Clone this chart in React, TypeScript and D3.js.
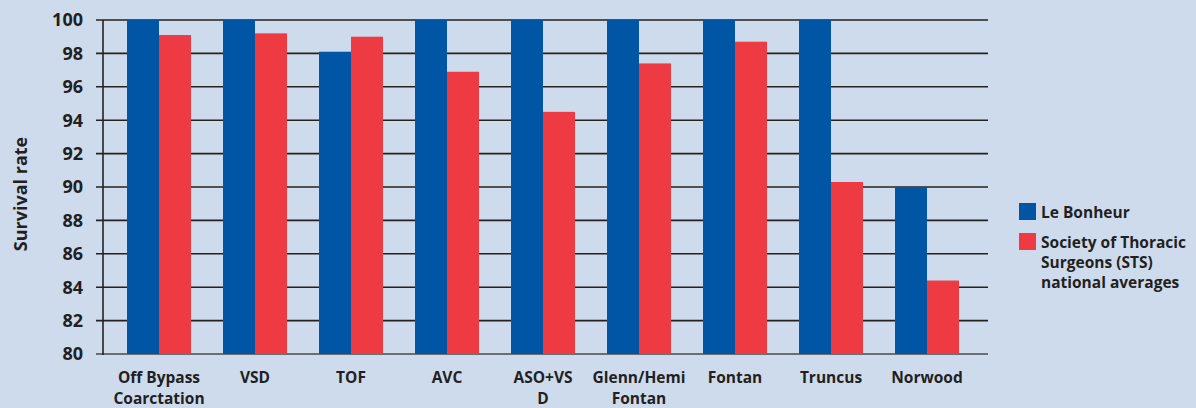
import React from "react";
import * as d3 from "d3";

const categories = [
  ["Off Bypass", "Coarctation"],
  ["VSD"],
  ["TOF"],
  ["AVC"],
  ["ASO+VS", "D"],
  ["Glenn/Hemi", "Fontan"],
  ["Fontan"],
  ["Truncus"],
  ["Norwood"],
];
const leBonheur = [100, 100, 98.1, 100, 100, 100, 100, 100, 90];
const sts = [99.1, 99.2, 99.0, 96.9, 94.5, 97.4, 98.7, 90.3, 84.4];
const yTicks = [80, 82, 84, 86, 88, 90, 92, 94, 96, 98, 100];
const seriesNames = ["Le Bonheur", "Society of Thoracic|Surgeons (STS)|national averages"];
const colors = ["#0055a5", "#ee3a43"];

export default function App() {
  const W = 1196, H = 408;
  const keys = categories.map((c) => c.join(" "));
  const x = d3.scaleBand<string>().domain(keys).range([111, 975]).paddingInner(1 / 3).paddingOuter(1 / 6);
  const y = d3.scaleLinear().domain([80, 100]).range([354, 20]);
  const bw = x.bandwidth() / 2;
  const font = "'Open Sans', 'Noto Sans', sans-serif";
  const textColor = "#231f20";
  return (
    <svg width={W} height={H} style={{ position: "absolute", left: 0, top: 0, background: "#cedbed" }} fontFamily={font}>
      <rect x={0} y={0} width={W} height={H} fill="#cedbed" />
      {yTicks.map((t) => (
        <g key={t}>
          <line x1={96} x2={988} y1={y(t)} y2={y(t)} stroke={t === 80 ? "#4a4a4a" : "#222"} strokeWidth={1.6} />
          <text x={83} y={y(t)} dy="0.36em" textAnchor="end" fontSize={18} fontWeight={700} fill={textColor}>
            {t}
          </text>
        </g>
      ))}
      <line x1={103} x2={103} y1={20} y2={355} stroke="#222" strokeWidth={1.6} />
      {keys.map((k, i) => (
        <g key={k}>
          <rect x={x(k)!} y={y(leBonheur[i])} width={bw} height={y(80) - y(leBonheur[i])} fill={colors[0]} />
          <rect x={x(k)! + bw} y={y(sts[i])} width={bw} height={y(80) - y(sts[i])} fill={colors[1]} />
          {categories[i].map((line, j) => (
            <text key={j} x={x(k)! + bw} y={383 + j * 21} textAnchor="middle" fontSize={15.5} fontWeight={700} fill={textColor}>
              {line}
            </text>
          ))}
        </g>
      ))}
      <text transform="translate(27,194) rotate(-90)" textAnchor="middle" fontSize={18} fontWeight={700} fill={textColor}>
        Survival rate
      </text>
      {seriesNames.map((name, i) => (
        <g key={i}>
          <rect x={1019} y={203 + i * 30} width={17} height={17} fill={colors[i]} />
          {name.split("|").map((line, j) => (
            <text key={j} x={1041} y={218 + i * 30 + j * 20} fontSize={15.5} fontWeight={700} fill={textColor}>
              {line}
            </text>
          ))}
        </g>
      ))}
    </svg>
  );
}
